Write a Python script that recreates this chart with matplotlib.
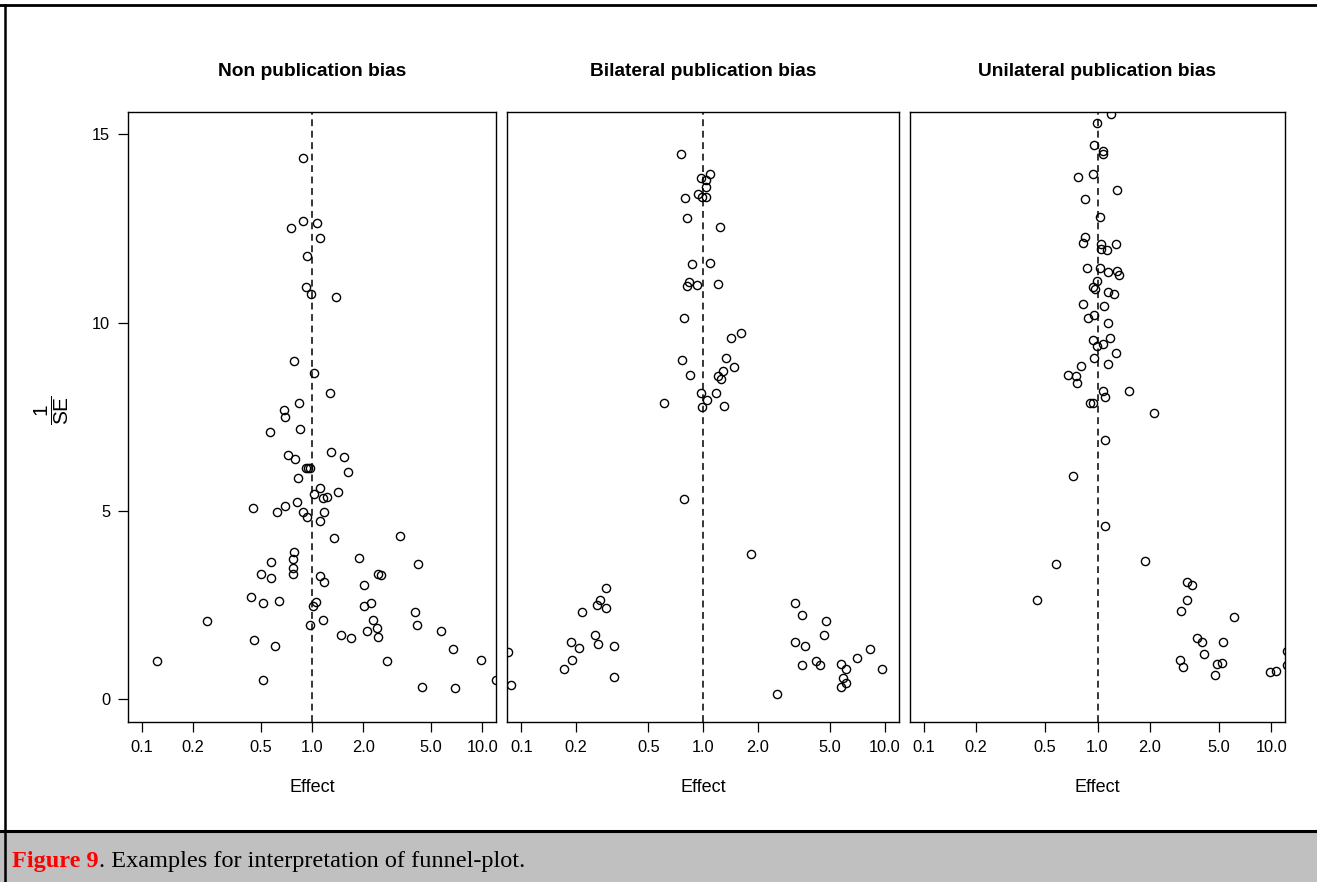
import matplotlib
matplotlib.use("Agg")
import matplotlib.pyplot as plt
from matplotlib.lines import Line2D
from matplotlib.patches import Rectangle
from matplotlib.ticker import NullLocator

plt.rcParams["font.family"] = ["Liberation Sans", "DejaVu Sans"]
plt.rcParams["mathtext.fontset"] = "custom"
plt.rcParams["mathtext.rm"] = "Liberation Sans"

titles = ["Non publication bias", "Bilateral publication bias", "Unilateral publication bias"]

# effect size and precision (1/SE) of each study
none_effect = [
    0.878, 0.878, 1.069, 0.754, 1.107, 0.935, 0.914, 0.987, 1.373, 0.781,
    1.02, 1.267, 0.832, 0.683, 0.696, 0.847, 0.564, 1.291, 0.724, 1.543,
    0.796, 0.914, 0.943, 0.977, 1.628, 0.829, 1.107, 1.423, 1.027, 1.216,
    1.153, 0.813, 0.449, 0.696, 0.622, 0.878, 1.175, 0.935, 1.107, 1.344,
    3.26, 0.781, 0.768, 0.577, 1.895, 4.18, 0.768, 0.768, 0.504, 0.577,
    2.436, 2.547, 1.107, 1.175, 2.01, 0.438, 0.513, 0.636, 1.05, 1.008,
    2.01, 2.218, 4.02, 0.242, 1.153, 2.27, 0.968, 4.11, 2.39, 2.09,
    5.68, 1.476, 1.687, 2.436, 0.457, 0.608, 6.76, 0.123, 2.738, 9.75,
    0.513, 12.0, 4.43, 6.92,
]
none_prec = [
    14.37, 12.70, 12.65, 12.50, 12.24, 11.78, 10.94, 10.75, 10.67, 8.97,
    8.66, 8.12, 7.86, 7.67, 7.50, 7.17, 7.10, 6.57, 6.49, 6.42,
    6.37, 6.15, 6.15, 6.14, 6.04, 5.88, 5.61, 5.50, 5.46, 5.38,
    5.35, 5.24, 5.08, 5.12, 4.97, 4.97, 4.97, 4.84, 4.74, 4.29,
    4.32, 3.90, 3.71, 3.63, 3.75, 3.60, 3.48, 3.33, 3.33, 3.22,
    3.33, 3.30, 3.26, 3.10, 3.02, 2.72, 2.54, 2.61, 2.57, 2.46,
    2.46, 2.54, 2.31, 2.08, 2.11, 2.11, 1.96, 1.96, 1.88, 1.81,
    1.81, 1.70, 1.62, 1.66, 1.58, 1.40, 1.32, 1.02, 1.02, 1.05,
    0.52, 0.52, 0.33, 0.29,
]

bilat_effect = [
    0.757, 1.092, 0.970, 1.039, 1.034, 0.939, 0.991, 1.039, 0.799, 0.817,
    1.234, 0.873, 1.087, 0.834, 0.813, 0.927, 1.214, 0.782, 1.623, 1.425,
    0.770, 1.331, 1.486, 0.844, 1.281, 1.214, 1.256, 0.975, 1.173, 0.607,
    1.052, 0.991, 1.309, 0.782, 1.842,
    0.294, 0.270, 0.260, 0.294, 0.216, 0.255, 0.187, 0.264, 0.209, 0.324,
    0.191, 0.171, 0.324, 0.085, 0.088,
    3.225, 3.52, 4.74, 4.64, 3.225, 3.66, 8.31, 7.05, 4.17, 4.41,
    3.52, 5.78, 6.11, 9.64, 5.88, 6.11, 5.78, 2.55,
]
bilat_prec = [
    14.48, 13.95, 13.83, 13.78, 13.60, 13.42, 13.33, 13.33, 13.30, 12.77,
    12.54, 11.55, 11.58, 11.07, 10.98, 10.99, 11.02, 10.11, 9.73, 9.58,
    9.01, 9.05, 8.81, 8.62, 8.71, 8.58, 8.50, 8.12, 8.12, 7.86,
    7.94, 7.75, 7.79, 5.31, 3.86,
    2.95, 2.62, 2.50, 2.42, 2.32, 1.70, 1.51, 1.47, 1.36, 1.40,
    1.05, 0.79, 0.60, 1.25, 0.37,
    2.54, 2.23, 2.08, 1.70, 1.51, 1.40, 1.32, 1.09, 1.02, 0.90,
    0.90, 0.94, 0.79, 0.79, 0.56, 0.44, 0.33, 0.14,
]

unilat_effect = [
    1.203, 0.992, 0.957, 1.074, 1.074, 0.936, 0.775, 1.297, 0.853, 1.032,
    0.853, 0.820, 1.054, 1.275, 1.054, 1.137, 0.869, 1.032, 1.156, 1.297,
    1.327, 0.996, 0.936, 0.970, 1.156, 1.252, 0.820, 1.092, 0.957, 0.884,
    1.156, 0.941, 1.183, 1.074, 0.996, 1.275, 0.957, 1.156, 0.806, 0.679,
    0.748, 0.762, 1.074, 1.111, 1.514, 0.905, 0.936, 2.125, 1.111, 0.719,
    1.111, 0.574, 1.885, 3.27, 3.48, 0.449, 3.27, 3.03, 6.12, 3.75,
    3.97, 5.26, 12.26, 4.11, 2.98, 3.10, 5.17, 4.88, 12.26, 4.77,
    9.88, 10.64,
]
unilat_prec = [
    15.54, 15.31, 14.71, 14.55, 14.47, 13.95, 13.87, 13.53, 13.27, 12.80,
    12.27, 12.12, 12.08, 12.08, 11.96, 11.93, 11.44, 11.44, 11.33, 11.36,
    11.25, 11.10, 10.94, 10.90, 10.80, 10.75, 10.49, 10.45, 10.19, 10.11,
    9.99, 9.54, 9.58, 9.42, 9.38, 9.19, 9.05, 8.89, 8.85, 8.62,
    8.58, 8.40, 8.17, 8.02, 8.17, 7.87, 7.87, 7.60, 6.87, 5.92,
    4.59, 3.60, 3.68, 3.10, 3.02, 2.62, 2.64, 2.34, 2.19, 1.62,
    1.51, 1.51, 1.28, 1.20, 1.05, 0.86, 0.97, 0.94, 0.90, 0.64,
    0.71, 0.75,
]

x_ticks = [0.1, 0.2, 0.5, 1.0, 2.0, 5.0, 10.0]
x_ticklabels = ["0.1", "0.2", "0.5", "1.0", "2.0", "5.0", "10.0"]
y_ticks = [0, 5, 10, 15]

W, H = 1317, 882
fig = plt.figure(figsize=(W / 100, H / 100), dpi=100)

# panel boxes in pixels: left, right
boxes = [(128.3, 496.0), (506.7, 899.3), (909.7, 1285.3)]
top_px, bot_px = 111.7, 721.7
data = [(none_effect, none_prec), (bilat_effect, bilat_prec), (unilat_effect, unilat_prec)]

for i, ((l, r), (eff, prec), title) in enumerate(zip(boxes, data, titles)):
    ax = fig.add_axes([l / W, 1 - bot_px / H, (r - l) / W, (bot_px - top_px) / H])
    ax.set_xscale("log")
    ax.set_xlim(10 ** -1.08, 10 ** 1.08)
    ax.set_ylim(-0.6, 15.6)
    ax.axvline(1.0, color="black", lw=1.1, ls=(0, (4.5, 3)), zorder=1)
    ax.plot(eff, prec, "o", ms=5.9, mfc="none", mec="black", mew=1.0, zorder=2)
    ax.set_xticks(x_ticks)
    ax.set_xticklabels(x_ticklabels)
    ax.xaxis.set_minor_locator(NullLocator())
    ax.tick_params(axis="x", direction="out", length=7, width=0.9, pad=6, labelsize=11.8)
    if i == 0:
        ax.set_yticks(y_ticks)
        ax.set_yticklabels([str(v) for v in y_ticks])
        ax.tick_params(axis="y", direction="out", length=7, width=0.9, pad=6, labelsize=11.8)
    else:
        ax.tick_params(axis="y", left=False, labelleft=False)
    for s in ax.spines.values():
        s.set_linewidth(1.0)
    ax.set_title(title, fontsize=13.8, fontweight="bold", pad=25.5)
    fig.text((l + r) / 2 / W, 1 - 788 / H, "Effect", ha="center", va="center", fontsize=13)

fig.text(52 / W, 1 - 410 / H, r"$\dfrac{1}{\mathrm{SE}}$", rotation=90,
         ha="center", va="center", fontsize=15)

# frame and caption strip
fig.add_artist(Rectangle((0, 0), 1, 1 - 832 / H, transform=fig.transFigure,
                         facecolor="#c0c0c0", edgecolor="none"))
fig.add_artist(Line2D([0, 1], [1 - 831 / H] * 2, transform=fig.transFigure, color="black", lw=2.2))
fig.add_artist(Line2D([0, 1], [1 - 4.5 / H] * 2, transform=fig.transFigure, color="black", lw=2.0))
fig.add_artist(Line2D([4.5 / W] * 2, [0, 1 - 4.5 / H], transform=fig.transFigure, color="black", lw=1.8))

cap1 = fig.text(12 / W, 1 - 867 / H, "Figure 9", color="red", fontweight="bold",
                family="Liberation Serif", fontsize=17.5, va="baseline")
fig.canvas.draw()
bb = cap1.get_window_extent()
fig.text(bb.x1 / W, 1 - 867 / H, ". Examples for interpretation of funnel-plot.",
         color="black", family="Liberation Serif", fontsize=17.5, va="baseline")

fig.savefig("out.png", dpi=100)
